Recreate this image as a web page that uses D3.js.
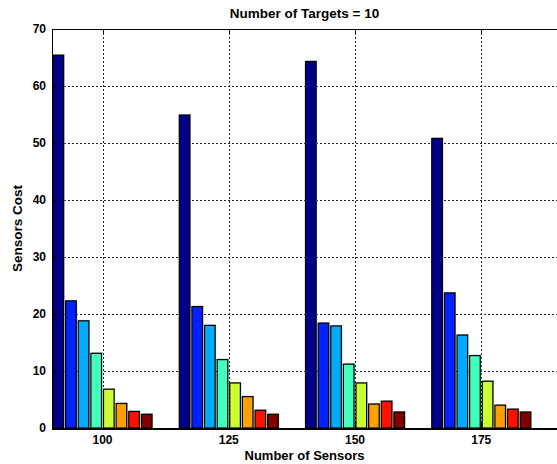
<!DOCTYPE html>
<html>
<head>
<meta charset="UTF-8">
<title>Number of Targets = 10</title>
<style>
  body { margin: 0; background: #fff; }
  svg { display: block; font-family: 'Liberation Sans', Arial, sans-serif; font-weight: bold; }
</style>
<script src="https://d3js.org/d3.v7.min.js"></script>
</head>
<body>
<div id="chart"></div>
<script>
const sensors = [100, 125, 150, 175];
const yTicks = [0, 10, 20, 30, 40, 50, 60, 70];
// one array per bar series (8 bars in each group)
const s1 = [65.4, 54.9, 64.3, 50.8];
const s2 = [22.3, 21.3, 18.4, 23.7];
const s3 = [18.8, 18.0, 17.9, 16.3];
const s4 = [13.1, 12.0, 11.2, 12.7];
const s5 = [6.8, 7.9, 7.9, 8.2];
const s6 = [4.3, 5.5, 4.2, 4.0];
const s7 = [2.9, 3.1, 4.7, 3.3];
const s8 = [2.4, 2.4, 2.8, 2.8];
const series = [s1, s2, s3, s4, s5, s6, s7, s8];
const colors = ["#000088", "#0022ff", "#00aaff", "#44ffbb", "#ccff33", "#ffa000", "#ff1100", "#800000"];

const W = 557, H = 464;
const mLeft = 52, mRight = 557, mTop = 29, mBottom = 428;

const svg = d3.select("#chart").append("svg")
  .attr("width", W).attr("height", H);

const x = d3.scaleLinear().domain([90, 190]).range([mLeft, mRight]);
const y = d3.scaleLinear().domain([0, 70]).range([mBottom, mTop]);

// grid
const grid = svg.append("g").attr("stroke", "#222").attr("stroke-width", 1)
  .attr("stroke-dasharray", "2,2").attr("shape-rendering", "crispEdges");
grid.selectAll(".gy").data(yTicks.slice(1, -1)).join("line")
  .attr("x1", mLeft).attr("x2", mRight)
  .attr("y1", d => Math.round(y(d)) + 0.5).attr("y2", d => Math.round(y(d)) + 0.5);
grid.selectAll(".gx").data(sensors).join("line")
  .attr("y1", mTop).attr("y2", mBottom)
  .attr("x1", d => Math.round(x(d)) + 0.5).attr("x2", d => Math.round(x(d)) + 0.5);

// bars
const slot = 2.5, bw = 2.1;
const bars = [];
series.forEach((s, j) => s.forEach((v, i) => bars.push({ cat: sensors[i], j, v })));

const bg = svg.append("g");
// faint shadow
bg.selectAll(".sh").data(bars).join("rect")
  .attr("x", d => x(d.cat + (d.j - 3.5) * slot - bw / 2) + 1)
  .attr("y", d => y(d.v) - 1)
  .attr("width", d => x(bw) - x(0))
  .attr("height", d => y(0) - y(d.v) + 1)
  .attr("fill", "#bbb");
bg.selectAll(".bar").data(bars).join("rect")
  .attr("x", d => x(d.cat + (d.j - 3.5) * slot - bw / 2))
  .attr("y", d => y(d.v))
  .attr("width", d => x(bw) - x(0))
  .attr("height", d => y(0) - y(d.v))
  .attr("fill", d => colors[d.j])
  .attr("stroke", "#000").attr("stroke-width", 1.2);

// axes box
const ax = svg.append("g").attr("stroke", "#000").attr("shape-rendering", "crispEdges");
ax.append("line").attr("x1", mLeft + 0.5).attr("x2", mLeft + 0.5).attr("y1", mTop).attr("y2", mBottom + 1).attr("stroke-width", 1.5);
ax.append("line").attr("x1", mLeft).attr("x2", mRight).attr("y1", mBottom + 0.5).attr("y2", mBottom + 0.5).attr("stroke-width", 2);
ax.append("line").attr("x1", mLeft).attr("x2", mRight).attr("y1", mTop + 0.5).attr("y2", mTop + 0.5).attr("stroke-width", 1.2);
ax.selectAll(".ty").data(yTicks).join("line")
  .attr("x1", mLeft).attr("x2", mLeft + 5)
  .attr("y1", d => Math.round(y(d)) + 0.5).attr("y2", d => Math.round(y(d)) + 0.5);
ax.selectAll(".tx").data(sensors).join("line")
  .attr("y1", mBottom).attr("y2", mBottom - 5)
  .attr("x1", d => Math.round(x(d)) + 0.5).attr("x2", d => Math.round(x(d)) + 0.5);
ax.selectAll(".tt").data(sensors).join("line")
  .attr("y1", mTop).attr("y2", mTop + 5)
  .attr("x1", d => Math.round(x(d)) + 0.5).attr("x2", d => Math.round(x(d)) + 0.5);

// tick labels
svg.append("g").selectAll("text").data(yTicks).join("text")
  .attr("x", mLeft - 6).attr("y", d => y(d) + 4)
  .attr("text-anchor", "end").attr("font-size", 12).text(d => d);
svg.append("g").selectAll("text").data(sensors).join("text")
  .attr("x", d => x(d)).attr("y", mBottom + 16)
  .attr("text-anchor", "middle").attr("font-size", 12).text(d => d);

// titles
svg.append("text").attr("x", (mLeft + mRight) / 2).attr("y", 18)
  .attr("text-anchor", "middle").attr("font-size", 13.5).text("Number of Targets = 10");
svg.append("text").attr("x", (mLeft + mRight) / 2).attr("y", 460)
  .attr("text-anchor", "middle").attr("font-size", 13).text("Number of Sensors");
svg.append("text").attr("transform", `translate(22,${(mTop + mBottom) / 2}) rotate(-90)`)
  .attr("text-anchor", "middle").attr("font-size", 13.5).text("Sensors Cost");
</script>
</body>
</html>
